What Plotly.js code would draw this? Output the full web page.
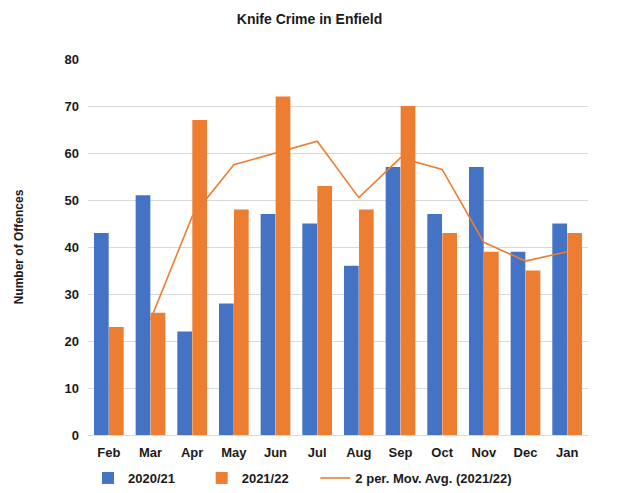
<!DOCTYPE html>
<html><head><meta charset="utf-8">
<script src="https://cdn.plot.ly/plotly-3.0.1.min.js"></script>
<style>html,body{margin:0;padding:0;background:#fff;}#chart{width:619px;height:493px;}</style>
</head><body><div id="chart"></div>
<script>
const months = ['Feb','Mar','Apr','May','Jun','Jul','Aug','Sep','Oct','Nov','Dec','Jan'];
const y2020 = [43,51,22,28,47,45,36,57,47,57,39,45];
const y2021 = [23,26,67,48,72,53,48,70,43,39,35,43];
const avgMonths = ['Mar','Apr','May','Jun','Jul','Aug','Sep','Oct','Nov','Dec','Jan'];
const movAvg = [24.5,46.5,57.5,60,62.5,50.5,59,56.5,41,37,39];
const yTicks = [0,10,20,30,40,50,60,70,80];
const seriesNames = ['2020/21','2021/22','2 per. Mov. Avg. (2021/22)'];

const font = 'Liberation Sans, Arial, sans-serif';
const pad = '\u00a0\u00a0\u00a0\u00a0\u00a0\u00a0';
const data = [
  {type:'bar', name:seriesNames[0] + pad, x:months, y:y2020, marker:{color:'#4472C4'}},
  {type:'bar', name:seriesNames[1] + pad, x:months, y:y2021, marker:{color:'#ED7D31'}},
  {type:'scatter', mode:'lines', name:seriesNames[2], x:avgMonths, y:movAvg,
   line:{color:'#ED7D31', width:1.6}}
];
const layout = {
  width:619, height:493,
  margin:{l:88, r:31, t:59, b:58},
  paper_bgcolor:'#fff', plot_bgcolor:'#fff',
  title:{text:'<b>Knife Crime in Enfield</b>', x:0.5, xanchor:'center', y:0.962, yanchor:'middle',
         font:{family:font, size:14, color:'#1a1a1a'}},
  barmode:'group', bargap:0.28, bargroupgap:0.02,
  xaxis:{categoryorder:'array', categoryarray:months, showgrid:false, zeroline:false, automargin:false,
         showline:false, ticks:'', ticklabelstandoff:8,
         tickfont:{family:font, size:13, color:'#1a1a1a', weight:'bold'}},
  yaxis:{range:[0,80], tickvals:yTicks, showgrid:true, gridcolor:'#d9d9d9', gridwidth:1, automargin:false,
         zeroline:true, zerolinecolor:'#d9d9d9', showline:false, ticks:'', ticklabelstandoff:8,
         tickfont:{family:font, size:13, color:'#1a1a1a', weight:'bold'},
         title:{text:'<b>Number of Offences</b>', standoff:38, font:{family:font, size:12, color:'#1a1a1a'}}},
  showlegend:true,
  legend:{orientation:'h', x:0.0, xanchor:'left', yref:'container', y:0, yanchor:'bottom',
          font:{family:font, size:13, color:'#1a1a1a', weight:'bold'}, itemwidth:30, traceorder:'normal'}
};
Plotly.newPlot('chart', data, layout, {displayModeBar:false, staticPlot:true});
</script></body></html>
